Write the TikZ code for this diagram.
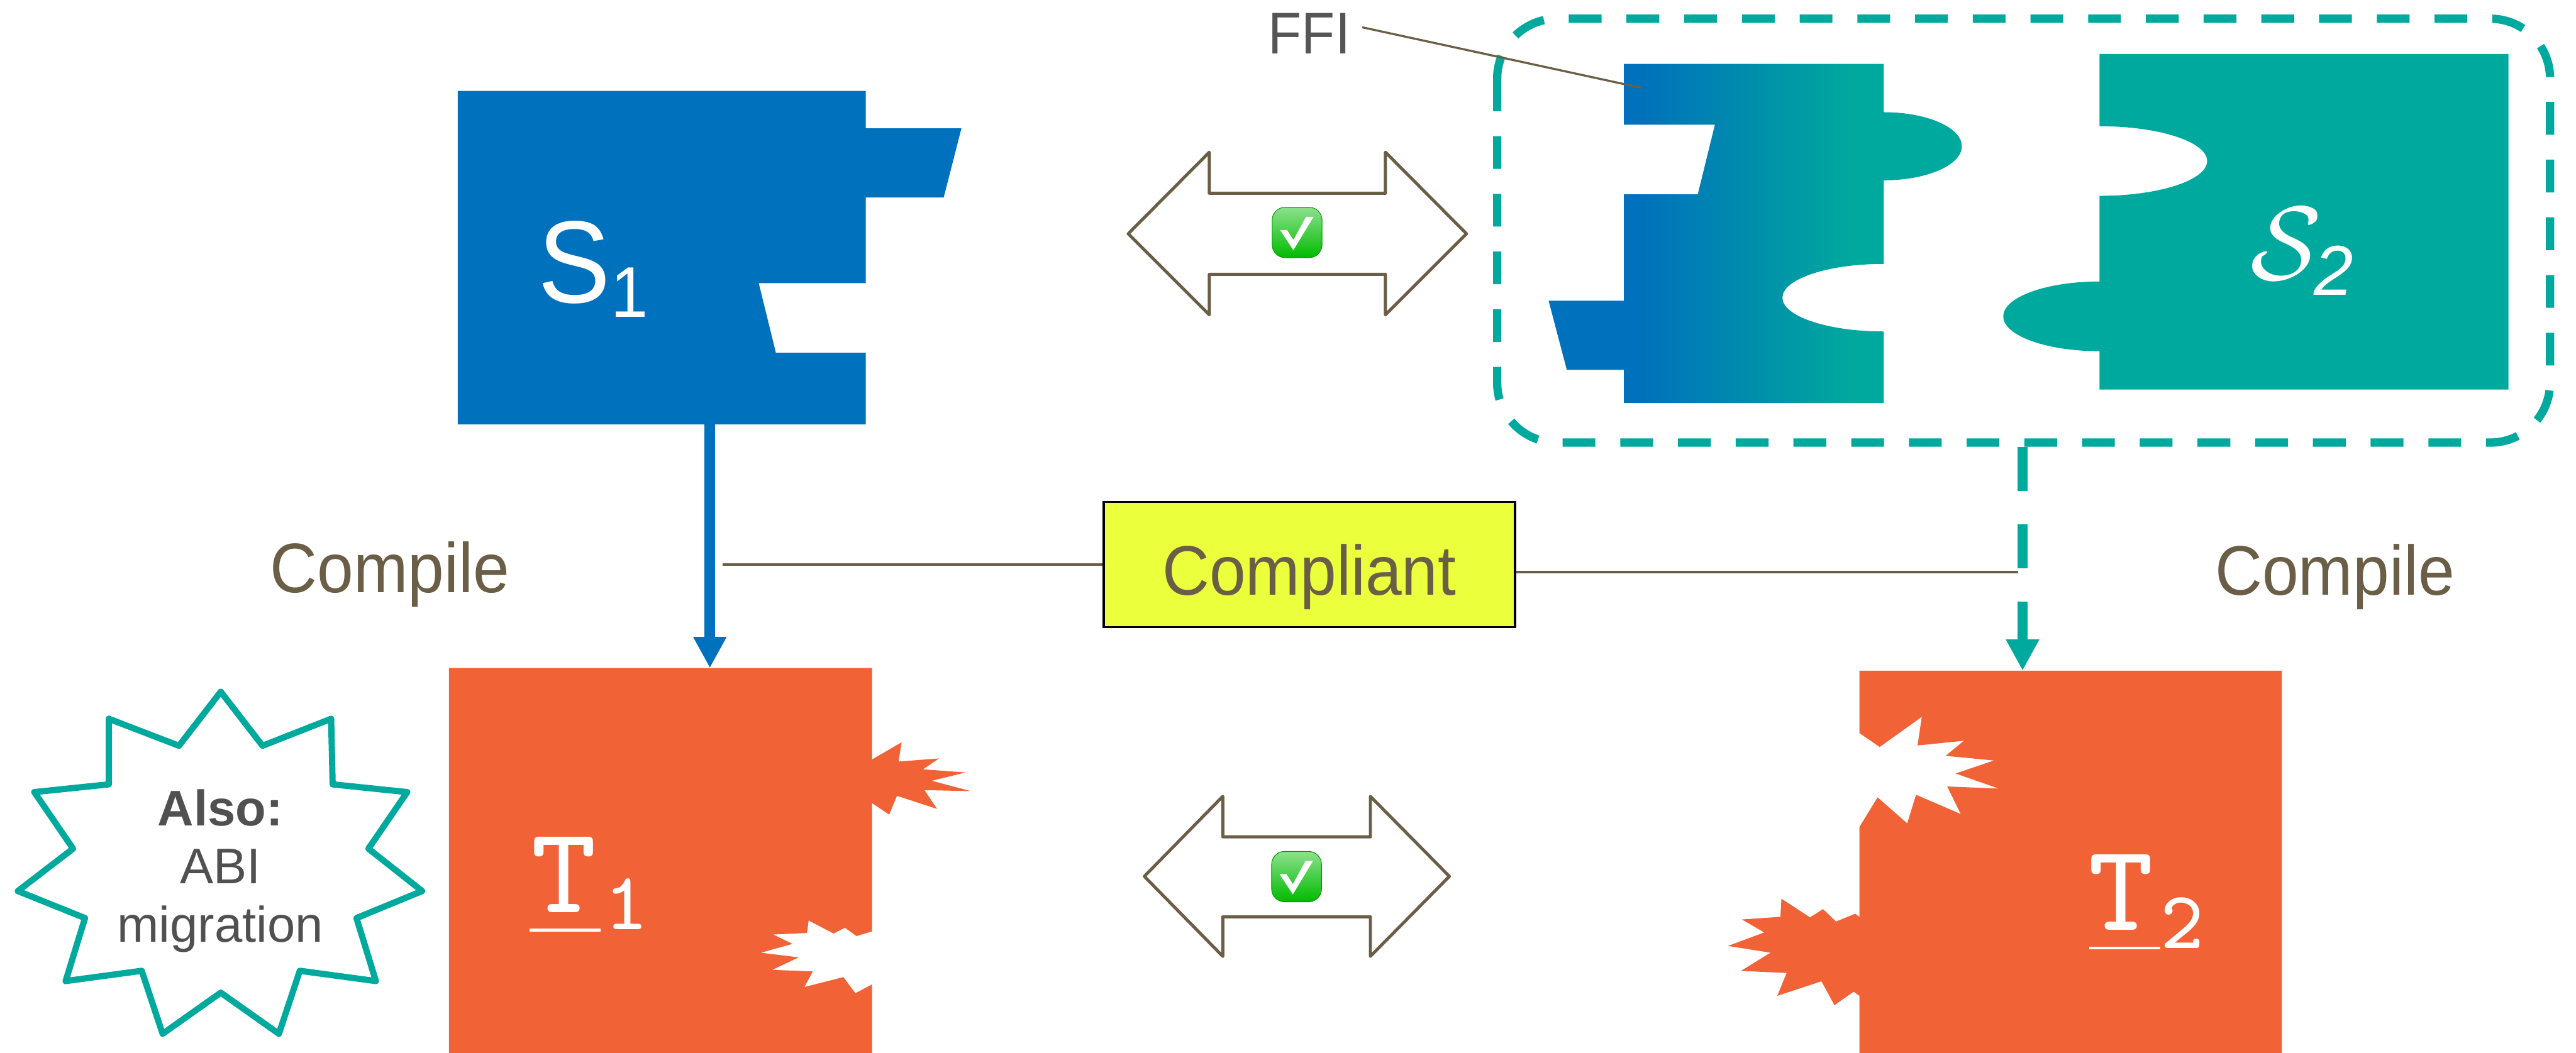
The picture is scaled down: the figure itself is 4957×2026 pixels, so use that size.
\documentclass[tikz,border=0pt]{standalone}
\usepackage{fontspec}
\setmainfont{Liberation Sans}
\newfontfamily\hvn{Liberation Sans}[FakeStretch=0.93]
\usetikzlibrary{arrows.meta,calc}

\definecolor{srcblue}{RGB}{0,113,188}
\definecolor{srcteal}{RGB}{0,169,157}
\definecolor{tgtorange}{RGB}{242,98,55}
\definecolor{brownish}{RGB}{107,94,71}
\definecolor{compyellow}{RGB}{235,255,60}
\definecolor{labelgray}{RGB}{85,85,85}
\definecolor{startext}{RGB}{80,80,80}
\definecolor{checkgreen}{RGB}{0,187,0}
\definecolor{checklight}{RGB}{140,225,140}
\definecolor{checkedge}{RGB}{0,150,0}

% blue-to-teal blend of the FFI glue piece
\pgfdeclarehorizontalshading{ffishade}{100bp}{color(0bp)=(srcblue); color(36bp)=(srcblue); color(62bp)=(srcteal); color(100bp)=(srcteal)}

% classic typewriter face (small design size) for the target labels
\newcommand{\cmttface}{\fontencoding{OT1}\fontfamily{cmtt}\fontseries{m}\fontshape{n}\fontsize{8pt}{10pt}\selectfont}

\begin{document}
\begin{tikzpicture}[x=0.01cm,y=-0.01cm,
  thinline/.style={draw=brownish, line width=0.045cm},
  dblarrow/.style={draw=brownish, line width=0.06cm, line join=round, fill=white},
  bigtip/.style={-{Triangle[length=0.6cm,width=0.6cm]}},
  checkicon/.style={draw=checkedge, line width=0.012cm, top color=checklight,
    middle color=checkgreen, bottom color=checkgreen, rounded corners=0.25cm,
    minimum width=0.96cm, minimum height=0.97cm, inner sep=0,
    path picture={\fill[white, sharp corners, shift={(path picture bounding box.center)}]
      (-32.7,-4.8) -- (-19.5,-4.8) -- (-7.2,14.5) -- (17.3,-30.2) -- (31.6,-30.2) -- (-7.2,34.2) -- cycle;}},
  compilelbl/.style={anchor=base west, inner sep=0, text=brownish, font=\hvn\fontsize{38.4pt}{40pt}\selectfont},
  ttmain/.style={anchor=base west, inner sep=0, text=white, font=\cmttface, scale=8.45},
  ttsub/.style={anchor=base west, inner sep=0, text=white, font=\cmttface, scale=5.6}]

\useasboundingbox (0,0) rectangle (4957,2026);
\fill[white] (0,0) rectangle (4957,2026);

% ---------- source piece S1 ----------
\fill[srcblue] (881,175) -- (1666,175) -- (1666,247) -- (1850,247) -- (1816,380) -- (1666,380)
  -- (1666,545) -- (1460,545) -- (1493,679) -- (1666,679) -- (1666,817) -- (881,817) -- cycle;
\node[anchor=base west, inner sep=0, text=white, font=\hvn\fontsize{64pt}{70pt}\selectfont]
  (s1label) at (1035,583) {S\raisebox{-0.28cm}{\fontsize{39.3pt}{40pt}\selectfont 1}};

% ---------- FFI glue piece ----------
\shade[shading=ffishade] (3125,123) -- (3625,123) -- (3625,216)
  arc[start angle=90, end angle=-90, x radius=1.5cm, y radius=0.655cm]
  -- (3625,508) arc[start angle=90, end angle=270, x radius=1.95cm, y radius=0.65cm]
  -- (3625,776) -- (3125,776) -- (3125,712) -- (3015,712) -- (2980,579) -- (3125,579)
  -- (3125,374) -- (3267,374) -- (3300,240) -- (3125,240) -- cycle;

% ---------- source piece S2 ----------
\fill[srcteal] (4040,104) -- (4827,104) -- (4827,750) -- (4040,750) -- (4040,676)
  arc[start angle=270, end angle=90, x radius=1.85cm, y radius=0.67cm]
  -- (4040,377) arc[start angle=-90, end angle=90, x radius=2.07cm, y radius=0.67cm] -- cycle;
\node[text=white, inner sep=0, scale=2.3, font=\fontsize{24pt}{26pt}\selectfont]
  (s2label) at (4432,484) {$\mathcal{S}_{\mathit{2}}$};

% dashed group around the FFI piece and S2
\draw[srcteal, line width=0.16cm, rounded corners=1.15cm, dash pattern=on 0.63cm off 0.48cm]
  (2881,36) rectangle (4907,852);

% FFI label and its leader
\node[anchor=base west, inner sep=0, text=labelgray, font=\hvn\fontsize{32.2pt}{34pt}\selectfont]
  (ffi) at (2440,103) {FFI};
\coordinate (ffitip) at (3158,169);
\draw[thinline, line width=0.04cm] ([xshift=0.22cm,yshift=0.115cm]ffi.east) -- (ffitip);

% ---------- compatibility arrows ----------
\draw[dblarrow] (2171,450) -- (2327,293) -- (2327,372) -- (2666,372) -- (2666,293) -- (2822,450)
  -- (2666,606) -- (2666,528) -- (2327,528) -- (2327,606) -- cycle;
\node[checkicon] (okS) at (2496,447.5) {};

\draw[dblarrow] (2202,1687) -- (2353,1533) -- (2353,1611) -- (2637,1611) -- (2637,1533) -- (2789,1687)
  -- (2637,1841) -- (2637,1765) -- (2353,1765) -- (2353,1841) -- cycle;
\node[checkicon] (okT) at (2495,1687.5) {};

% ---------- target T1 ----------
\fill[tgtorange] (864,1286) -- (1678,1286) -- (1678,1462) -- (1735,1429) -- (1729,1466) -- (1807,1460)
  -- (1776,1481) -- (1858,1487) -- (1793,1503) -- (1868,1523) -- (1779,1521) -- (1803,1557)
  -- (1726,1532) -- (1711,1568) -- (1678,1546) -- (1678,1793) -- (1648,1802) -- (1626,1786)
  -- (1604,1797) -- (1556,1772) -- (1553,1796) -- (1488,1799) -- (1525,1817) -- (1464,1834)
  -- (1537,1843) -- (1486,1867) -- (1564,1870) -- (1548,1900) -- (1623,1881) -- (1646,1912)
  -- (1678,1895) -- (1678,2040) -- (864,2040) -- cycle;
\node[ttmain] (t1T) at (1016,1757) {T};
\node[ttsub] (t1sub) at (1160,1789) {1};
\fill[white] (1019,1788) rectangle (1156,1793);

% ---------- target T2 ----------
\fill[tgtorange] (3578,1291) -- (4391,1291) -- (4391,2040) -- (3578,2040) -- (3578,1917)
  -- (3567,1909) -- (3530,1935) -- (3505,1889) -- (3420,1917) -- (3438,1873) -- (3350,1869)
  -- (3407,1834) -- (3325,1821) -- (3395,1795) -- (3352,1770) -- (3426,1765) -- (3428,1730)
  -- (3483,1766) -- (3508,1750) -- (3533,1774) -- (3570,1759) -- (3578,1765) -- (3578,1592)
  -- (3613,1535) -- (3670,1585) -- (3687,1530) -- (3773,1567) -- (3747,1514) -- (3846,1518)
  -- (3763,1489) -- (3837,1464) -- (3744,1455) -- (3779,1426) -- (3690,1435) -- (3698,1380)
  -- (3617,1438) -- (3578,1411) -- cycle;
\node[ttmain] (t2T) at (4012,1790) {T};
\node[ttsub] (t2sub) at (4154,1825) {2};
\fill[white] (4020,1822) rectangle (4157,1827);

% ---------- compile arrows ----------
\coordinate (s1bot) at (1366,817);
\coordinate (t1top) at (1366,1286);
\draw[srcblue, line width=0.2cm, bigtip] (s1bot) -- (t1top);

\coordinate (boxbot) at (3892,860);
\coordinate (t2top) at (3892,1291);
\draw[srcteal, line width=0.2cm, dash pattern=on 0.85cm off 0.64cm, bigtip] (boxbot) -- (t2top);

\node[compilelbl] (compileL) at (519,1140) {Compile};
\node[compilelbl] (compileR) at (4262,1145) {Compile};

% ---------- compliance link ----------
\node[draw=black, line width=0.04cm, fill=compyellow, inner sep=0, minimum width=7.91cm,
  text height=1.80cm, text depth=0.61cm, text=brownish, font=\hvn\fontsize{38.4pt}{40pt}\selectfont]
  (cmp) at (2519.5,1086.5) {Compliant};
\coordinate (cmpL) at (1390,1087);
\coordinate (cmpR) at (3883,1101);
\draw[thinline] (cmpL) -- (cmpL -| cmp.west);
\draw[thinline] (cmpR -| cmp.east) -- (cmpR);

% ---------- ABI note ----------
\draw[srcteal, line width=0.12cm, line join=round, fill=white]
  (424.8,1331.7) -- (505.2,1435.6) -- (637.2,1383.7) -- (640.1,1509.9) -- (783.6,1524.8)
  -- (709,1633.7) -- (812.3,1715.3) -- (686,1767.3) -- (723.3,1888.6) -- (576.9,1868.8)
  -- (536.7,1990.1) -- (424.8,1910.9) -- (312.9,1990.1) -- (272.7,1868.8) -- (126.3,1888.6)
  -- (163.6,1767.3) -- (34.4,1715.3) -- (140.6,1633.7) -- (66,1524.8) -- (209.5,1509.9)
  -- (209.5,1383.7) -- (344.4,1435.6) -- cycle;
\node[align=center, inner sep=0, text=startext, font=\fontsize{27.4pt}{31.9pt}\selectfont]
  (abi) at (424,1676.5) {\textbf{Also:}\\ABI\\migration};

\end{tikzpicture}
\end{document}
